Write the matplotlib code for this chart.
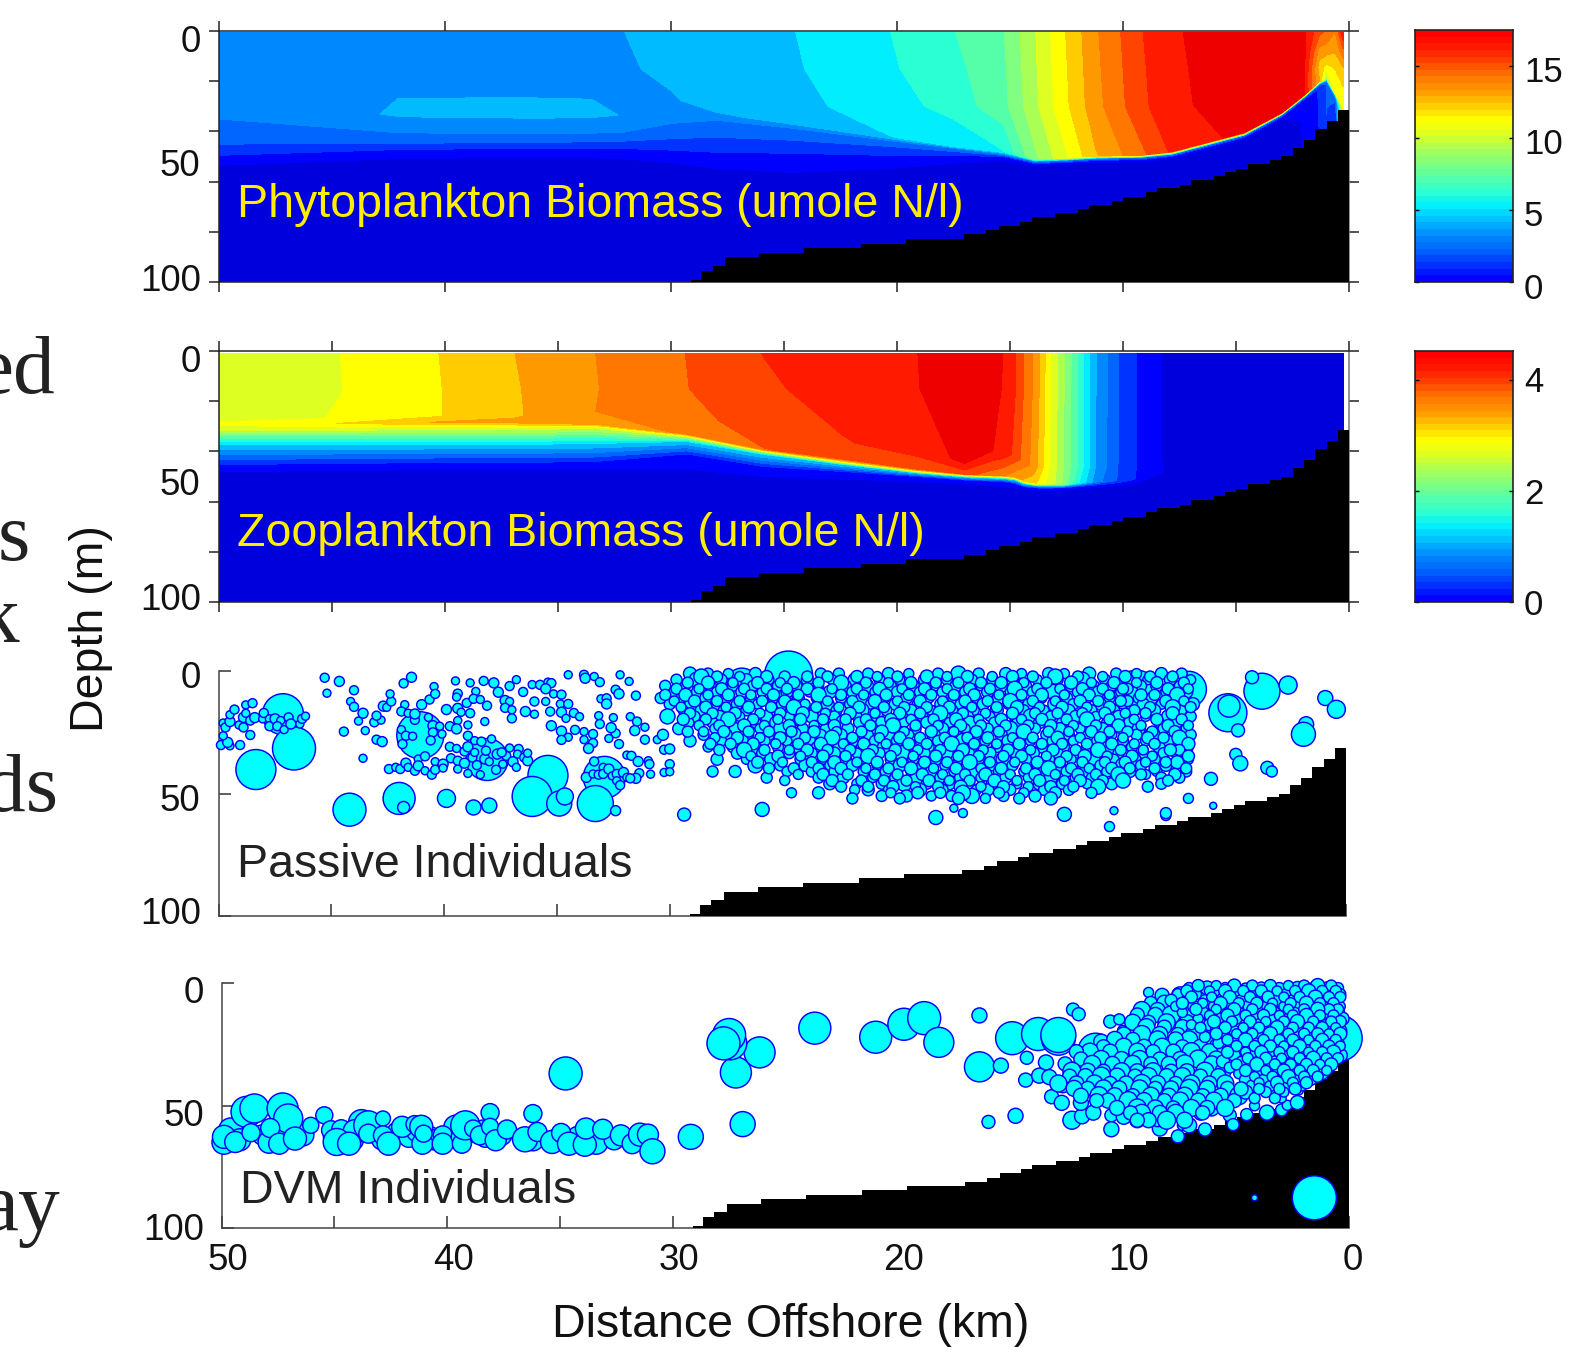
#!/usr/bin/env python
import numpy as np
import matplotlib
matplotlib.use("Agg")
import matplotlib.pyplot as plt
from matplotlib.colors import LinearSegmentedColormap
from matplotlib.transforms import ScaledTranslation

W, H = 1573, 1354
PS = W / 1568.0  # positions below were read on the 1568 wide view
plt.rcParams['font.family'] = ['Liberation Sans', 'DejaVu Sans']

band_colours = ["#0000dd", "#0000ff", "#0033ff", "#0066ff", "#0088ff", "#00bbff", "#00eeff",
                "#2bffd4", "#55ffaa", "#80ff80", "#aaff55", "#ddff22", "#ffff00", "#ffcc00",
                "#ff9900", "#ff7700", "#ff4400", "#ff1a00", "#ee0000"]

# bottom steps: left edge of each step (km offshore) and depth (m)
bathy_km = [29.1, 28.65, 28.15, 27.6, 26.1, 24.1, 21.6, 19.6, 17.05, 16.05, 15.5, 14.55, 14.05, 13, 12,
            11.5, 10.5, 10, 9, 8.5, 7.5, 7, 6, 5.5, 5, 4.5, 3.5, 3, 2.5, 2, 1.5, 1, 0.5, 0]
bathy_depth = [99.3, 95.5, 93.7, 90.2, 88.3, 86.5, 84.7, 82.9, 81.1, 79.5, 77.7, 76, 74.3, 72.7, 70.9,
               69.3, 67.6, 66, 64.3, 62.7, 61.2, 59.4, 57.9, 56.3, 54.8, 53.1, 51.5, 50, 46.7, 43.6,
               39.1, 35.9, 31.3, 31.3]

# phytoplankton section, one row per station, nodes going down the water column
phyto_top = 17.5
phyto_km = [50, 41.9, 36, 33.5, 32.3, 30, 28, 24.6, 20.4, 17.5, 15.3, 13.9, 12.6, 11.2, 9.2, 7.85, 4.66, 3, 2, 1.33, 1, 0.62, 0.27]
phyto_depth = [
    [0.5, 15, 27, 30, 35.6, 45.2, 49.6, 53.6, 60, 100],
    [0.5, 15, 27, 33.5, 40.8, 44.8, 47.2, 50.8, 60, 100],
    [0.5, 15, 27, 33.5, 40.8, 44.4, 46.8, 50.4, 60, 100],
    [0.5, 15, 27, 33.5, 40.8, 44.2, 46.8, 50.6, 60, 100],
    [0.5, 15, 27, 33.5, 40.8, 44, 46.8, 50.8, 60, 100],
    [0.5, 15, 27, 32, 37, 43, 47.5, 52.5, 60, 100],
    [0.5, 15, 30, 33, 35.6, 42.4, 48.4, 54.8, 62, 100],
    [0.5, 15, 30, 37, 38.8, 43.6, 48.8, 56.4, 64, 100],
    [0.5, 15, 30, 42, 43.6, 46, 49.6, 54.8, 62, 100],
    [0.5, 15, 30, 46, 46.8, 48, 49.6, 52.8, 60, 100],
    [0.5, 15, 30, 48, 49.2, 49.6, 50, 51.6, 60, 100],
    [0.5, 15, 30, 51, 52, 52.4, 52.8, 53.6, 60, 100],
    [0.5, 15, 30, 50.6, 51.6, 52, 52.4, 53.2, 60, 100],
    [0.5, 15, 30, 49.8, 50.8, 51.2, 51.6, 52.4, 60, 100],
    [0.5, 15, 30, 49.4, 50.4, 50.8, 51.2, 52, 60, 100],
    [0.5, 15, 30, 48, 49.2, 49.6, 50, 50.8, 58, 100],
    [0.5, 15, 28, 40.4, 41.6, 42, 42.4, 43.2, 50, 100],
    [0.5, 12, 24, 32.5, 33.5, 33.9, 34.3, 35.1, 42, 100],
    [0.5, 10, 18, 25.4, 26.4, 26.8, 27.2, 28, 35, 100],
    [0.5, 8, 14, 20, 21.2, 21.6, 22, 22.8, 30, 100],
    [0.5, 8, 14, 19, 19.6, 20, 20.4, 21.2, 30, 100],
    [0.5, 8, 15, 25, 25.6, 26, 26.4, 27.2, 32, 100],
    [0.5, 8, 16, 30, 31, 32, 33, 34, 40, 100],
]
phyto_vals = [
    [4.0, 3.95, 3.95, 3.9, 3.66, 2.75, 1.83, 0.916, 0.4, 0.3],
    [3.95, 4.05, 4.62, 4.7, 3.66, 2.75, 1.83, 0.916, 0.4, 0.3],
    [3.95, 4.1, 4.62, 4.8, 3.66, 2.75, 1.83, 0.916, 0.4, 0.3],
    [4.2, 4.25, 4.6, 4.75, 3.66, 2.75, 1.83, 0.916, 0.4, 0.3],
    [4.58, 4.5, 4.55, 4.6, 3.66, 2.75, 1.83, 0.916, 0.4, 0.3],
    [4.8, 4.75, 4.55, 4.45, 3.66, 2.75, 1.83, 0.916, 0.4, 0.3],
    [5.0, 5.0, 4.8, 4.55, 3.66, 2.75, 1.83, 0.916, 0.4, 0.3],
    [5.5, 5.42, 5.25, 4.7, 3.66, 2.75, 1.83, 0.916, 0.4, 0.3],
    [6.41, 6.3, 6.0, 5.5, 3.66, 2.75, 1.83, 0.916, 0.4, 0.3],
    [7.33, 7.1, 6.8, 5.7, 3.66, 2.75, 1.83, 0.916, 0.4, 0.3],
    [8.24, 8.1, 8.0, 6.4, 3.66, 2.75, 1.83, 0.916, 0.4, 0.3],
    [10.08, 10.0, 9.9, 9.0, 3.66, 2.75, 1.83, 0.916, 0.4, 0.3],
    [11.9, 11.8, 11.7, 10.8, 3.66, 2.75, 1.83, 0.916, 0.4, 0.3],
    [13.7, 13.6, 13.5, 12.8, 3.66, 2.75, 1.83, 0.916, 0.4, 0.3],
    [15.6, 15.5, 15.4, 14.5, 3.66, 2.75, 1.83, 0.916, 0.4, 0.3],
    [16.5, 16.45, 16.4, 15.8, 3.66, 2.75, 1.83, 0.916, 0.4, 0.3],
    [17.0, 17.0, 17.0, 16.9, 3.66, 2.75, 1.83, 0.916, 0.4, 0.3],
    [16.9, 16.9, 16.9, 16.8, 3.66, 2.75, 1.83, 0.916, 0.4, 0.3],
    [16.8, 16.8, 16.7, 16.6, 3.66, 2.75, 1.83, 1.3, 1.0, 0.8],
    [15.0, 13.5, 12.5, 13.0, 3.66, 2.75, 2.2, 1.9, 1.9, 1.5],
    [14.5, 13.3, 11.7, 9.0, 4.5, 4.0, 3.4, 2.8, 2.8, 2.0],
    [13.8, 13.0, 12.0, 11.0, 5.0, 4.5, 4.0, 3.0, 2.0, 1.5],
    [16.5, 14.5, 12.5, 11.3, 11.0, 11.0, 10.0, 10.0, 10.0, 5.0],
]

# zooplankton section, same layout
zoo_top = 4.52
zoo_km = [50, 44.6, 40.3, 36.9, 33.3, 29.3, 25.9, 22.4, 19.1, 17, 15.9, 15.3, 14.75, 14.4, 14, 13.7, 13.2, 12.6, 12, 11.2, 10.2, 9.4, 8.3, 7.8, 4.2, 0.27]
zoo_depth = [
    [0.8, 15, 26, 29.2, 31.2, 37.2, 45.2, 48, 100],
    [0.8, 15, 27, 28.8, 31.2, 37.2, 44.8, 47.6, 100],
    [0.8, 15, 26, 28.4, 30.8, 37.2, 44.4, 47.2, 100],
    [0.8, 15, 26, 28.4, 30.8, 37.2, 44.4, 47.2, 100],
    [0.8, 15, 24, 29, 30.5, 36.8, 44, 47, 100],
    [0.8, 15, 26, 33, 34, 36, 41, 47, 100],
    [0.8, 15, 30, 39, 40, 41.2, 46, 50, 100],
    [0.8, 15, 36, 43, 44.4, 45.2, 48, 51, 100],
    [0.8, 15, 40, 47, 48, 48.6, 50, 52, 100],
    [0.8, 15, 44, 49, 49.6, 50.2, 51.4, 53, 100],
    [0.8, 15, 40, 49.4, 50, 50.6, 51.8, 53.6, 100],
    [0.8, 15, 40, 49.6, 50.2, 50.8, 52, 54, 100],
    [0.8, 15, 42, 50.2, 50.8, 51.4, 52.8, 54.5, 100],
    [0.8, 15, 44, 51.6, 52.2, 52.8, 54, 55, 100],
    [0.8, 15, 46, 52.4, 53, 53.4, 54.4, 55.4, 100],
    [0.8, 15, 46, 52.8, 53.2, 53.6, 54.6, 55.6, 100],
    [0.8, 15, 46, 52.8, 53, 53.6, 54.6, 55.6, 100],
    [0.8, 15, 46, 52.8, 53, 53.6, 54.4, 55.4, 100],
    [0.8, 15, 46, 52.4, 52.6, 53, 54, 55, 100],
    [0.8, 15, 46, 52, 52.2, 52.6, 53.4, 54.4, 100],
    [0.8, 15, 46, 51.4, 51.6, 51.8, 52.6, 53.6, 100],
    [0.8, 15, 46, 50.8, 51, 51.2, 51.6, 52.6, 100],
    [0.8, 15, 44, 48, 48.5, 49, 50, 51, 100],
    [0.8, 15, 30, 45, 46, 47, 48, 49, 100],
    [0.8, 15, 30, 45, 46, 47, 48, 49, 100],
    [0.8, 10, 20, 25, 26, 27, 28, 29, 100],
]
zoo_vals = [
    [2.7, 2.72, 2.75, 2.9, 2.7, 1.43, 0.476, 0.238, 0.05],
    [2.856, 2.85, 2.87, 3.1, 2.7, 1.43, 0.476, 0.238, 0.05],
    [3.09, 3.08, 3.08, 3.35, 2.7, 1.43, 0.476, 0.238, 0.05],
    [3.33, 3.31, 3.3, 3.4, 2.7, 1.43, 0.476, 0.238, 0.05],
    [3.57, 3.56, 3.57, 3.45, 2.7, 1.43, 0.476, 0.238, 0.05],
    [3.81, 3.8, 3.72, 3.6, 2.7, 1.43, 0.476, 0.238, 0.05],
    [4.05, 4.0, 3.93, 3.8, 2.7, 1.43, 0.476, 0.238, 0.05],
    [4.17, 4.15, 4.03, 3.85, 2.7, 1.43, 0.476, 0.238, 0.05],
    [4.28, 4.27, 4.12, 3.85, 2.7, 1.43, 0.476, 0.238, 0.05],
    [4.5, 4.5, 4.35, 3.9, 2.7, 1.43, 0.476, 0.238, 0.05],
    [4.35, 4.35, 4.3, 3.7, 2.7, 1.43, 0.476, 0.238, 0.05],
    [4.28, 4.27, 4.22, 3.6, 2.7, 1.43, 0.476, 0.238, 0.05],
    [4.05, 4.04, 3.95, 3.4, 2.7, 1.43, 0.476, 0.238, 0.05],
    [3.81, 3.8, 3.7, 3.3, 2.7, 1.43, 0.476, 0.238, 0.05],
    [3.57, 3.56, 3.5, 3.2, 2.7, 1.43, 0.476, 0.238, 0.05],
    [3.33, 3.32, 3.25, 3.0, 2.7, 1.43, 0.476, 0.238, 0.05],
    [2.856, 2.84, 2.8, 2.75, 2.6, 1.43, 0.476, 0.238, 0.05],
    [2.38, 2.37, 2.35, 2.3, 2.2, 1.43, 0.476, 0.238, 0.05],
    [1.9, 1.9, 1.88, 1.7, 1.6, 1.3, 0.476, 0.238, 0.05],
    [1.19, 1.19, 1.17, 1.05, 0.95, 0.8, 0.476, 0.238, 0.05],
    [0.71, 0.71, 0.7, 0.68, 0.66, 0.6, 0.44, 0.238, 0.05],
    [0.476, 0.476, 0.47, 0.46, 0.44, 0.42, 0.35, 0.238, 0.05],
    [0.238, 0.24, 0.24, 0.26, 0.24, 0.2, 0.1, 0.06, 0.05],
    [0.15, 0.15, 0.15, 0.15, 0.12, 0.1, 0.07, 0.05, 0.05],
    [0.1, 0.1, 0.1, 0.1, 0.1, 0.1, 0.1, 0.1, 0.05],
    [0.1, 0.1, 0.1, 0.1, 0.1, 0.1, 0.1, 0.1, 0.05],
]

# passive individuals: big ones with their own diameter (pixels on the page)
passive_big_km = [47.15, 46.66, 48.35, 44.2, 42.0, 41.8, 39.9, 38.7, 38.0, 41.06, 38.1, 35.4, 36.1, 34.9, 34.65, 32.9, 33.3, 32.4, 29.36,
                  24.73, 26.8, 9.3, 7.0, 5.25, 5.2, 4.8, 3.74, 4.18, 2.58, 0.93, 0.44, 1.78, 1.9, 4.9, 4.7, 3.5, 3.3, 6.0, 7.0, 5.9, 8.0, 8.0, 10.5, 10.3, 12.5, 18.2, 17, 17.4, 25.9]
passive_big_depth = [17.6, 31.6, 40.2, 56.6, 52.0, 55.7, 52, 55.7, 54.9, 26.2, 36.1, 42.6, 51.2, 54.1, 51.2, 43.4, 54.1, 57, 58.6,
                     1.6, 5.3, 8.6, 7.4, 17, 14.3, 24.2, 8.2, 2.5, 5.7, 11, 15.6, 21.7, 25.8, 34, 37.7, 39.5, 41, 44, 52, 55, 59, 58, 63.5, 57, 58.5, 59.8, 58, 56, 56.5]
passive_big_d = [41, 43, 40, 33, 32, 12, 18, 15, 15, 47, 42, 40, 40, 25, 17, 42, 36, 10, 13,
                 48, 32, 44, 36, 38, 22, 13, 36, 13, 18, 15, 18, 15, 24, 12, 15, 13, 11, 13, 10, 7, 10, 11, 10, 8, 14, 14, 9, 8, 14]

passive_small_km = [49.9, 49.5, 49.05, 49.6, 49.8, 48.6, 49.8, 49.7, 49.5, 49.5, 49.3, 49.1, 48.9, 48.9, 48.8, 48.5, 48.8, 48.6, 48.4, 48.05, 48, 47.75, 47.75, 47.5, 47.25, 47.4, 47.1, 46.9, 46.8, 46.4, 46.3, 46.15,
                    45.3, 44.65, 45.2, 44, 44.15, 44, 43.6, 43.8, 44.45, 43.5, 43, 42.75, 43.6, 43.1, 42.8, 43, 42.7, 42.55, 42.35, 42.4, 41.8, 41.45, 41.75, 41.9, 41.6, 41.3, 41.3, 41.9, 41.7, 41.4, 41.85, 41, 40.7, 40.65, 40.45, 40.4, 40.5, 40.2, 40.5, 40.1, 40.6,
                    39.9, 39.5, 39.4, 39.45, 39, 39.4, 39.25, 38.85, 39.4, 39.75, 39.45, 38.95, 38.95, 38.85, 38.25, 37.8, 38.6, 38.7, 38.4, 38.1, 37.6, 38.2, 37.1, 36.8, 36.5, 37.3, 37.1, 37.3, 37, 37, 36.4, 36, 36, 35.5, 35.3, 35.25, 36.1, 35.75, 35.4, 35.25, 35.5, 35.15, 34.8, 34.85, 34.5, 34.8, 34.6, 34.25, 34, 34.2, 34.8, 34.5, 34.8,
                    34.5, 33.8, 33.75, 33.35, 33.1, 33.05, 32.8, 32.8, 33.15, 33.1, 32.5, 32.4, 32.6, 33.8, 33.4, 33.8, 33.4, 33.6, 32.7, 32.25, 32.2, 32.4, 32.25, 31.8, 31.5, 31.75, 31.45, 31.55, 31.1, 31.1, 31.9, 31.7, 31.4, 30.95, 30.9, 30.85, 31.35, 31.5, 30.25, 30, 30, 30.25, 30, 30.55,
                    42.45, 42.15, 41.95, 41.7, 41.6, 41.3, 41.15, 40.85, 41.15, 40.85, 40.55, 40.4, 40.4, 40.05, 40.05, 39.7, 39.4, 39.4, 39.1, 38.95, 38.75, 38.4, 38.55, 38.2, 38, 37.7, 37.4, 37.25, 36.95, 36.8, 36.7, 36.75, 36.45, 36.3, 36.3, 39.75, 39.45, 39.1, 38.95, 38.65, 38.35, 37.9, 38.15, 37.65, 38.65, 37.45, 37.1,
                    33.35, 33.7, 33.4, 33.15, 32.95, 32.95, 32.7, 32.55, 32.35, 32.35, 32.2, 32.05, 31.9, 31.75]
passive_small_depth = [30.2, 30.5, 30.2, 29.1, 26.4, 26.1, 21.2, 23, 20.6, 17.8, 15.7, 22, 23, 18.9, 13.8, 13.1, 17.2, 20.2, 19, 19.5, 17.1, 19.5, 22.5, 19.5, 20.2, 22.5, 23.9, 18.9, 21.6, 21.6, 19.5, 18.4,
                       2.7, 4.2, 9, 7.8, 12.4, 14.6, 17.2, 20.4, 24.7, 24.3, 28, 28.8, 35.6, 20.9, 20, 18.2, 14.3, 14.8, 12.4, 9.3, 5, 2.5, 13.7, 16.5, 17.2, 19.9, 17.5, 23.9, 26.4, 26.6, 29.8, 13.7, 18.9, 11.6, 6.3, 9.3, 22.3, 22.5, 25, 25.7, 28.3,
                       15.7, 4, 9.2, 10.6, 13, 15.2, 16.8, 17.2, 20.2, 22.5, 23.6, 22, 26.4, 4.8, 4, 4.8, 8.3, 11.3, 11.6, 14.1, 8.6, 20.6, 6.1, 3.5, 8.5, 12, 12.4, 15, 15.8, 19.3, 16.5, 17.6, 12.4, 12.4, 16.5, 22.3, 5.5, 5.6, 4.5, 4.9, 7.2, 9.3, 9.6, 13.4, 13.4, 16.8, 19.3, 17.1, 18.6, 24, 24.5, 27, 28.1,
                       1.5, 1.5, 2.9, 2.2, 4.5, 11.3, 11.1, 13.4, 18.2, 21.6, 19, 25.4, 23.1, 24.7, 25.7, 28, 29.4, 31.6, 27.5, 29.8, 1.5, 7.6, 9.3, 4.2, 10, 18.6, 20.6, 24.3, 22.9, 28, 34.3, 34.6, 36.9, 36.6, 38, 42.1, 41.7, 43.8, 41.4, 38, 41.1, 32.1, 31.8, 28,
                       40, 39.3, 40, 37.6, 39.3, 40.7, 35.9, 34.8, 38.7, 40.7, 42.3, 37, 40.3, 38, 39.6, 35.6, 40, 36.6, 37.6, 41.8, 35.3, 42.3, 38.4, 35.9, 37, 40.3, 38, 34.6, 37, 39.3, 31.8, 33.9, 35.3, 36.6, 33.5, 30.9, 31.6, 32.8, 30.9, 28.4, 28.8, 27.7, 32.5, 33.9, 33.2, 33.2, 31.4,
                       36.9, 43.4, 42, 42.3, 39.3, 42, 40, 42.8, 42, 44.8, 46.6, 41.4, 43.4, 43.8]

# the dense part of the passive cloud, read as rows: depth of the row and km of the bubbles in it
passive_row_depth = [1, 3.5, 6, 8.5, 11, 13.5, 16, 18.5, 21, 23.5, 26, 28.5, 31, 33.5, 36, 38.5, 41, 43.5, 46, 48.5, 51]
passive_row_km = [
    [7.3, 8.2, 9.3, 10.2, 11.4, 12.5, 13.2, 14.4, 15.1, 16.3, 17.2, 18.1, 19.4, 20.3, 21.2, 22.5, 23.3, 26.2, 27.4, 28.3, 29.1],
    [6.9, 7.8, 8.8, 9.7, 10.7, 11.7, 12.8, 13.7, 14.8, 15.7, 16.6, 17.7, 18.7, 19.8, 20.7, 21.8, 22.8, 23.9, 25.6, 26.6, 27.7, 28.8, 29.7],
    [7.4, 8.4, 9.1, 10.4, 11.2, 12.2, 13.3, 14.2, 15.3, 16.2, 17.3, 18.2, 19.2, 20.2, 21.3, 22.2, 23.4, 24.4, 25.2, 26.3, 27.2, 28.2, 29.3, 30.2],
    [7.1, 8.0, 9.5, 10, 11, 11.9, 13, 13.9, 14.9, 15.9, 16.9, 17.9, 18.9, 19.9, 20.9, 21.9, 22.9, 23.8, 24.8, 25.9, 26.8, 27.9, 28.7, 29.8],
    [7.6, 8.6, 9.2, 10.5, 11.5, 12.4, 13.5, 14.5, 15.4, 16.4, 17.4, 18.5, 19.5, 20.5, 21.4, 22.4, 23.5, 24.3, 25.4, 26.4, 27.5, 28.4, 29.5, 30.4],
    [6.8, 8.2, 9.0, 9.9, 10.9, 12.1, 12.9, 14.1, 15, 16.1, 17.1, 18, 19, 20, 21.1, 22, 23, 24, 25, 26.1, 27, 27.9, 29, 30],
    [7.3, 8.5, 9.4, 10.3, 11.3, 12.3, 13.4, 14.3, 15.5, 16.5, 17.5, 18.4, 19.3, 20.4, 21.5, 22.6, 23.6, 24.6, 25.5, 26.6, 27.6, 28.6, 29.4],
    [6.9, 7.9, 8.9, 10.1, 11.1, 12, 13.1, 14, 14.7, 15.8, 16.8, 17.8, 18.8, 19.7, 20.8, 21.7, 22.7, 23.7, 24.7, 25.7, 26.9, 27.8, 28.9, 30.1],
    [7.5, 8.3, 9.6, 10.6, 11.6, 12.6, 13.6, 14.6, 15.6, 16.7, 17.6, 18.6, 19.6, 20.6, 21.6, 22.3, 23.2, 24.2, 25.3, 26.2, 27.3, 28.1, 29.2],
    [7.1, 8.1, 9.2, 10, 10.8, 11.8, 12.7, 13.8, 14.9, 15.9, 16.9, 17.9, 19.1, 20.1, 21, 22.1, 23.1, 24.1, 25.1, 26, 27.1, 28, 29.6],
    [6.9, 8.6, 9.3, 10.4, 11.4, 12.3, 13.3, 14.4, 15.3, 16.4, 17.3, 18.3, 19.4, 20.3, 21.2, 22.4, 23.3, 24.5, 25.6, 26.5, 27.5, 28.5, 30.3],
    [7.4, 7.9, 8.9, 9.9, 11, 12.1, 13, 14, 15, 16, 17, 18.1, 18.9, 19.9, 20.9, 21.8, 22.8, 23.8, 24.8, 25.8, 26.8, 27.7, 29.1],
    [7, 8.3, 9.5, 10.5, 11.5, 12.5, 13.5, 14.5, 15.5, 16.6, 17.5, 18.5, 19.5, 20.5, 21.5, 22.5, 23.5, 24.4, 25.2, 26.3, 27.2, 28.3],
    [7.5, 8.1, 9, 10.1, 11.1, 11.9, 12.8, 13.9, 14.7, 15.8, 16.7, 17.7, 18.7, 19.7, 20.7, 21.7, 22.7, 23.7, 24.7, 25.9, 27],
    [7, 8.5, 9.4, 10.3, 11.2, 12.2, 13.2, 14.2, 15.2, 16.3, 17.2, 18.2, 19.2, 20.2, 21.3, 22.2, 23.2, 24.2, 25.5, 26.6, 27.9],
    [7.6, 8, 9.1, 9.9, 10.9, 11.7, 12.7, 13.7, 14.8, 15.7, 16.8, 17.8, 18.8, 19.8, 20.8, 21.9, 22.9, 24, 25.1, 26.2],
    [7.1, 8.4, 9.6, 10.6, 11.6, 12.4, 13.4, 14.3, 15.4, 16.5, 17.4, 18.4, 19.3, 20.4, 21.4, 22.6, 23.7, 24.8, 27.1, 28.1],
    [7.4, 8.2, 10.2, 11.3, 12, 13.1, 14.1, 15.1, 16.2, 17.1, 18, 19, 20, 21, 22.3, 23.4, 25.7],
    [8.2, 10.4, 11.5, 12.6, 13.6, 14.6, 15.7, 16.7, 17.6, 18.6, 19.6, 20.6, 21.7, 22.9],
    [12.3, 13.4, 14.9, 15.9, 16.4, 17.9, 18.9, 20.3, 21.2, 21.8],
    [13.8, 15.2, 16.6, 17.5, 18.4, 19.5, 20.6],
]
passive_row2_depth = [2.2, 4.7, 7.2, 9.7, 12.2, 14.7, 17.2, 19.7, 22.2, 24.7, 27.2, 29.7, 32.2, 34.7, 37.2, 39.7, 42.2, 44.7, 47.2, 49.7, 52]
passive_row2_km = [
    [7.7, 8.7, 9.8, 10.8, 11.9, 12.9, 13.9, 14.8, 15.7, 16.8, 17.7, 18.6, 19.9, 20.8, 21.7, 23, 23.9, 24.9, 25.7, 26.9, 27.9, 28.6],
    [7.2, 8.4, 9.3, 10.3, 11.3, 12.2, 13.3, 14.3, 15.3, 16.2, 17.2, 18.2, 19.3, 20.3, 21.3, 22.4, 23.4, 24.5, 25.1, 26.1, 27.2, 28.3, 29.2],
    [7, 7.9, 9.7, 9.9, 10.8, 11.7, 12.7, 13.7, 14.7, 15.8, 16.7, 17.7, 18.7, 19.7, 20.7, 21.7, 22.8, 23.9, 24.8, 25.7, 26.7, 27.7, 28.7, 29.7],
    [7.5, 8.5, 9.1, 10.5, 11.4, 12.5, 13.5, 14.4, 15.4, 16.5, 17.4, 18.4, 19.4, 20.4, 21.4, 22.4, 23.4, 24.3, 25.4, 26.4, 27.4, 28.3, 29.3, 30.2],
    [7.2, 8, 9.7, 10, 11, 11.8, 12.9, 13.9, 14.9, 15.9, 16.9, 17.9, 18.9, 19.9, 20.9, 21.9, 23, 24.9, 25.9, 26.9, 27.9, 28.9, 29.8],
    [6.9, 7.7, 8.7, 10.5, 11.5, 12.6, 13.6, 14.6, 15.5, 16.6, 17.6, 18.6, 19.6, 20.5, 21.6, 22.5, 23.5, 24.5, 25.5, 26.5, 27.5, 28.4, 29.5],
    [7.7, 8.9, 9.8, 10.7, 11.7, 12.8, 13.8, 14.8, 16, 17, 18, 18.9, 19.8, 20.9, 22, 23.1, 24.1, 25.1, 26, 27.1, 28.1, 29.1],
    [7.3, 8.4, 9.4, 10.5, 11.5, 12.4, 13.5, 14.4, 15.3, 16.3, 17.3, 18.3, 19.3, 20.2, 21.3, 22.2, 23.2, 24.2, 25.2, 26.3, 27.4, 28.4, 29.4],
    [7, 7.9, 9.1, 10.1, 11.1, 12.1, 13.1, 14.1, 15.1, 16.2, 17.1, 18.1, 19.1, 20.1, 21.1, 22.7, 23.6, 24.7, 25.8, 26.7, 27.8, 28.7],
    [7.6, 8.6, 9.7, 10.5, 11.3, 12.3, 13.2, 14.3, 15.4, 16.4, 17.4, 18.4, 19.6, 20.6, 21.5, 22.6, 23.6, 24.6, 25.6, 26.5, 27.6, 28.5, 29.2],
    [7.4, 8.1, 8.8, 9.9, 10.9, 11.8, 12.8, 13.9, 14.8, 15.9, 16.8, 17.8, 18.9, 19.8, 20.7, 21.9, 22.8, 24, 25.1, 26, 27, 28],
    [7, 8.5, 9.4, 10.4, 11.5, 12.6, 13.5, 14.5, 15.5, 16.5, 17.5, 18.6, 19.4, 20.4, 21.4, 22.3, 23.3, 24.3, 25.3, 26.3, 27.3, 28.2],
    [7.4, 7.8, 9, 10, 11, 12, 13, 14, 15, 16.1, 17, 18, 19, 20, 21, 22, 23, 23.9, 24.7, 25.8, 26.7, 27.8],
    [7, 8.6, 9.5, 10.6, 11.6, 12.4, 13.3, 14.4, 15.2, 16.3, 17.2, 18.2, 19.2, 20.2, 21.2, 22.2, 23.2, 24.2, 25.2, 26.4],
    [7.5, 8, 8.9, 9.8, 10.7, 11.7, 12.7, 13.7, 14.7, 15.8, 16.7, 17.7, 18.7, 19.7, 20.8, 21.7, 22.7, 23.7, 25, 26.1],
    [7.1, 8.5, 9.6, 10.4, 11.4, 12.2, 13.2, 14.2, 15.3, 16.2, 17.3, 18.3, 19.3, 20.3, 21.3, 22.4, 23.4, 24.5, 25.6],
    [7.6, 8.9, 9.1, 10.1, 11.1, 11.9, 12.9, 13.8, 14.9, 16, 16.9, 17.9, 18.8, 19.9, 20.9, 22.1, 23.2, 24.3],
    [7.9, 9.9, 10.8, 11.8, 12.5, 13.6, 14.6, 15.6, 16.7, 17.6, 18.5, 19.5, 20.5, 21.5, 22.8, 24.9],
    [8.8, 11, 12.1, 13.1, 14.1, 15.2, 16.2, 17.1, 18.1, 19.1, 20.1, 21.2, 22.4],
    [11.3, 12.9, 14.3, 15.4, 17, 18, 19, 20.2, 23.4, 24.6],
    [13.1, 14.5, 16, 17.2, 19.8, 21.9],
]
passive_row_d = [11, 12, 10, 11, 13, 10, 12, 10, 12, 11, 15, 11, 10, 12, 11, 11]

# DVM individuals, the ones offshore and the big ones with their own diameter
dvm_big_km = [49.6, 49.9, 49.2, 48.2, 47.9, 47.1, 46.4, 45, 44.6, 44.2, 43.9, 43.2, 43.8, 42.9, 42.2, 41.7, 41.3, 40.8, 40.6, 39.8, 39.6, 39.1, 38.3, 38.4, 37.6, 36.2, 35, 34.2, 33.4, 32.6, 31.3,
              49.9, 49.4, 48.9, 48.55, 47.3, 47.05, 48.7, 47.85, 47.45, 46.75, 46.05, 45.45, 45.15, 44.7, 44.1, 44.9, 44.35, 43.5, 43.5, 42.85, 42.85, 42.6, 42, 41.45, 41.15, 41.1, 41.05, 40.2, 40.2, 39.4, 39.35, 39.2, 38.85, 38.55, 38.1, 38.1, 37.85, 37.35, 36.55, 36.2, 36, 35.35, 34.95, 34.6, 33.9, 33.85, 33.1, 32.3, 31.8, 31.45, 31.1, 30.9, 29.2, 26.9, 34.75, 27.2, 26.15, 27.45, 27.5, 27.75,
              23.7, 21.0, 19.75, 18.85, 18.2, 16.4, 14.95, 13.8, 12.9, 12.9, 16.4, 15.45, 14.3, 13.45, 14.35, 13.75, 13.3, 16, 14.8, 12.25, 12, 10.6, 10.2, 10.05, 9.35, 8.9, 8.8, 11.25, 11, 11.2, 12.3, 11.95, 12.7, 13.2, 12.75, 12.3, 11.85, 11.35, 11.9, 11.4, 10.75, 10.1, 9.8, 10.1, 9.2, 10.6, 10.15, 10.55, 10, 10.55, 9.4, 9, 8.4, 8.5, 7.4, 7.6, 7.1, 6.4, 6.6, 6.1, 5.3, 5.15, 4.55, 4.2, 3.65, 3, 2.75, 2.3, 3.5, 2.2, 3, 0.45]
dvm_big_depth = [60, 65, 64, 62, 65, 62, 62, 63, 62.5, 64, 60, 61, 57, 64, 61, 63, 60, 63, 64, 62, 59, 61, 63, 60, 62, 64, 63, 63, 65, 64, 63,
                 62.8, 64.9, 52.6, 51.2, 51.2, 55.3, 61.1, 59.2, 65.6, 63.5, 58.1, 54, 60.1, 59.7, 60.5, 64.9, 65.6, 58.1, 61.5, 55.3, 62.2, 65.6, 58.7, 57.6, 58.7, 65.6, 61.5, 62.2, 65.6, 62.8, 65.6, 58.1, 59.4, 62.2, 52.9, 58.7, 64.2, 59.8, 63.8, 53.3, 60.8, 64.9, 61.2, 65.6, 66, 59.4, 59.7, 62.2, 65.6, 61.9, 61.9, 68.7, 62.8, 57.6, 36.9, 36.5, 28.3, 24.6, 21.2, 24.6,
                 18.4, 22.1, 16.8, 14.3, 24.2, 13.2, 22.5, 20.8, 22.5, 21.2, 34.2, 33.7, 30.5, 32.4, 39.6, 37.8, 38.4, 56.7, 54.2, 10.8, 12.7, 15.7, 14.8, 19.3, 15.7, 3.8, 8.1, 27.6, 23.9, 30.7, 35.1, 35.1, 41.7, 46.4, 48.9, 56, 54.4, 52.9, 48.9, 41.7, 35.9, 29.4, 33.5, 36.9, 36.9, 44.4, 47.8, 54, 54.6, 59.7, 56, 52.3, 59.4, 56, 58.1, 62.6, 58.1, 59.8, 53.3, 51.2, 54, 57.8, 53.7, 50.1, 52.9, 51.8, 49.9, 48.8, 43.4, 44.1, 47.1, 22.5]
dvm_big_d = [24, 24, 22, 20, 22, 20, 22, 22, 25, 22, 24, 22, 26, 20, 21, 20, 24, 22, 20, 22, 25, 22, 20, 20, 21, 22, 22, 22, 24, 20, 22,
             23, 21, 31, 29, 31, 29, 18, 19, 21, 23, 16, 17, 19, 19, 23, 27, 23, 29, 19, 15, 19, 23, 21, 17, 23, 21, 17, 19, 21, 19, 19, 29, 17, 19, 18, 17, 21, 19, 25, 18, 19, 23, 19, 23, 23, 21, 20, 21, 20, 23, 21, 25, 25, 25, 33, 31, 31, 33, 33, 33,
             32, 32, 32, 33, 30, 15, 33, 33, 34, 35, 30, 15, 13, 15, 14, 15, 15, 13, 15, 13, 13, 13, 11, 10, 13, 10, 13, 35, 15, 13, 14, 15, 15, 14, 15, 18, 15, 15, 15, 15, 14, 15, 13, 11, 13, 13, 11, 13, 15, 15, 15, 15, 15, 13, 10, 13, 15, 13, 13, 15, 13, 12, 12, 10, 15, 12, 10, 14, 10, 7, 9, 46]

# middle of the DVM cloud
dvm_mid_depth = [5, 8, 11, 13, 16, 18, 21, 23, 26, 28, 31, 33, 36, 38, 41, 43, 46, 48, 51, 53, 56]
dvm_mid_km = [
    [6.3, 7.5, 8.3],
    [6.1, 7.4, 8.2],
    [6.8, 7.6, 8.5, 9.2],
    [6.4, 7.1, 7.9, 8.6, 9.4],
    [5.9, 7.2, 8.1, 8.9, 9.6],
    [6.6, 7.4, 8.2, 9],
    [6, 6.9, 7.6, 8.4, 9.2, 10],
    [6.3, 7.1, 7.7, 8.5, 9.6, 10.4],
    [5.8, 6.6, 7.4, 8.3, 9.1, 10, 10.9],
    [6.2, 7.0, 7.8, 8.7, 9.4, 10.6, 11.5, 12.1],
    [5.9, 6.7, 7.5, 8.4, 9.3, 10.1, 11, 11.9],
    [6.1, 7.3, 8.0, 8.8, 9.6, 10.5, 11.4, 12.6],
    [5.6, 6.4, 7.2, 7.9, 8.7, 9.4, 10.1, 10.9, 11.6, 12.3],
    [5.8, 6.6, 7.4, 8.1, 8.9, 9.5, 10.3, 11, 11.7, 12.4],
    [5.5, 6.2, 7, 7.7, 8.5, 9.2, 9.9, 10.6, 11.3, 12.1, 12.9],
    [5.4, 6.3, 7.1, 7.9, 8.6, 9.3, 10.2, 10.9, 11.6, 12.2],
    [4.9, 5.7, 6.5, 7.3, 8, 8.8, 9.6, 10.4, 11.1, 11.9],
    [5.1, 6, 6.7, 7.5, 8.2, 9.1, 9.8, 10.7, 11.2],
    [5.5, 6.3, 7, 7.8, 8.6, 9.4, 10.3],
    [6.5, 7.7, 8.4, 9.2, 9.7],
    [7.3, 8.1, 8.9, 9.4],
]
dvm_mid_d = [15, 17, 14, 16, 18, 15, 14, 17]

# near shore part of the DVM cloud
dvm_row_depth = [2, 4.5, 7, 9.5, 12, 14.5, 17, 19.5, 22, 24.5, 27, 29.5, 32, 34.5, 37, 39.5, 42, 44.5, 47]
dvm_row_km = [
    [0.5, 1.0, 1.7, 2.3, 3.1, 3.9, 4.6, 5.5, 6.3, 7.1],
    [0.4, 0.9, 1.4, 2.0, 2.8, 3.5, 4.3, 5.1, 5.9, 6.8, 7.6],
    [0.6, 1.2, 1.8, 2.5, 3.2, 4.0, 4.8, 5.6, 6.4, 7.2, 7.9],
    [0.4, 0.8, 1.5, 2.2, 2.9, 3.7, 4.4, 5.2, 6.0, 6.9, 7.7],
    [0.5, 1.1, 1.7, 2.4, 3.3, 4.1, 4.9, 5.7, 6.5, 7.4],
    [0.3, 0.9, 1.3, 2.0, 2.7, 3.5, 4.2, 5.0, 5.8, 6.7],
    [0.6, 1.2, 1.8, 2.6, 3.1, 3.9, 4.6, 5.4, 6.2, 7.0],
    [0.4, 0.8, 1.5, 2.2, 2.9, 3.6, 4.4, 5.1, 5.9],
    [0.6, 1.1, 1.7, 2.4, 3.2, 4.0, 4.7, 5.5, 6.4],
    [0.5, 0.9, 1.4, 2.1, 2.8, 3.4, 4.2, 5.0, 5.8],
    [0.6, 1.2, 1.9, 2.5, 3.1, 3.8, 4.5, 5.3],
    [0.4, 0.9, 1.5, 2.2, 2.9, 3.6, 4.3, 5.1],
    [0.7, 1.3, 1.8, 2.5, 3.3, 4.0, 4.8, 5.6],
    [0.9, 1.5, 2.1, 2.9, 3.6, 4.4, 5.3],
    [1.2, 1.8, 2.5, 3.2, 4.0, 4.9],
    [1.7, 2.3, 3.0, 3.8, 4.6],
    [2.1, 2.8, 3.5, 4.3],
    [2.9, 3.7, 4.6],
    [3.3, 4.2],
]
dvm_row2_depth = [1, 3.2, 5.7, 8.2, 10.7, 13.2, 15.7, 18.2, 20.7, 23.2, 25.7, 28.2, 30.7, 33.2, 35.7, 38.2, 40.7, 43.2]
dvm_row2_km = [
    [0.8, 1.4, 2, 2.7, 3.5, 4.3, 5.1, 5.9, 6.7],
    [0.6, 1.2, 1.8, 2.4, 3.2, 3.9, 4.7, 5.5, 6.2, 7.2],
    [0.4, 0.9, 1.5, 2.2, 2.9, 3.6, 4.4, 5.3, 6.1, 7],
    [0.7, 1.3, 1.9, 2.6, 3.4, 4.1, 4.9, 5.7, 6.5, 7.4],
    [0.5, 0.9, 1.4, 2.0, 2.7, 3.5, 4.3, 5.1, 5.9, 6.8],
    [0.7, 1.3, 1.9, 2.5, 3.1, 3.8, 4.6, 5.4, 6.2],
    [0.4, 0.8, 1.6, 2.3, 2.9, 3.7, 4.4, 5.2, 6],
    [0.6, 1.2, 1.8, 2.5, 3.2, 4, 4.7, 5.5, 6.6],
    [0.4, 0.9, 1.4, 2, 2.7, 3.5, 4.3, 5, 5.9],
    [0.6, 1.2, 1.8, 2.5, 3.1, 3.8, 4.6, 5.4],
    [0.4, 0.9, 1.5, 2.2, 2.9, 3.5, 4.2, 5],
    [0.7, 1.2, 1.8, 2.5, 3.1, 3.9, 4.6, 5.4],
    [0.5, 1, 1.6, 2.2, 3, 3.7, 4.5],
    [0.8, 1.3, 1.9, 2.6, 3.3, 4.1, 5],
    [1, 1.6, 2.2, 2.9, 3.7, 4.6],
    [1.4, 2, 2.7, 3.4, 4.2],
    [1.9, 2.5, 3.2, 4],
    [2.4, 3.1, 4, 4.8],
]
dvm_row_d = [11, 12, 10, 13, 11, 12, 10, 11, 14, 11]

legend_km = [4.2, 1.55]
legend_depth = [87.7, 87.7]
legend_d = [6, 44]


def box(x0, y0, x1, y1):
    # axes rectangle from page pixels
    return [x0 * PS / W, 1 - y1 * PS / H, (x1 - x0) * PS / W, (y1 - y0) * PS / H]


def dsize(d):
    # page pixel diameter to scatter size
    return (np.asarray(d, dtype=float) * 72.0 / 100.0) ** 2


def shift_labels(labels, fig, dx=None, dy=None):
    for i, t in enumerate(labels):
        ox = dx[i] if dx is not None else 0
        oy = dy[i] if dy is not None else 0
        t.set_transform(t.get_transform() + ScaledTranslation(ox / 100.0, oy / 100.0, fig.dpi_scale_trans))


def draw_bottom(ax):
    ax.fill_between(bathy_km, bathy_depth, 100, step="post", color="black", lw=0, zorder=3)


def depth_axis(ax, fig, marks, dy, tick_kw):
    ax.set_ylim(100, 0)
    ax.yaxis.remove_overlapping_locs = False
    ax.set_yticks([0, 50, 100])
    ax.set_yticklabels(["0", "50", "100"], fontsize=26.5, color="#111111")
    ax.set_yticks(marks, minor=True)
    ax.tick_params(axis="y", which="major", length=0, pad=13)
    ax.tick_params(axis="y", which="minor", **tick_kw)
    shift_labels(ax.get_yticklabels(), fig, dy=dy)


def section(fig, rect, km, depth, vals, top, label, label_x, dy):
    ax = fig.add_axes(rect)
    nrow = len(depth[0])
    X = np.tile(np.array(km, dtype=float), (nrow, 1))
    Y = np.array(depth, dtype=float).T
    Z = np.array(vals, dtype=float).T
    levels = np.linspace(0, top, len(band_colours) + 1)
    ax.contourf(X, Y, Z, levels=levels, colors=band_colours, zorder=1)
    draw_bottom(ax)
    ax.set_xlim(50, 0)
    tick_kw = dict(direction="out", length=7.5, width=1.1, color="#222222", left=True, right=True)
    depth_axis(ax, fig, [0, 20, 40, 60, 80, 100], dy, tick_kw)
    for s in ax.spines.values():
        s.set_linewidth(1.1)
        s.set_color("#222222")
    ax.spines["right"].set_color("#777777")
    ax.set_zorder(2)
    ax.text(label_x, label[1], label[0], fontsize=label[2], color="#ffee00", va="center", ha="left", zorder=5)
    return ax


def colourbar(fig, rect, top, ticks, dy):
    ax = fig.add_axes(rect)
    cmap = LinearSegmentedColormap.from_list("bar", ["#0000ff"] + band_colours[2:-1] + ["#ff0000"], N=38)
    edges = np.linspace(0, top, 39)
    ax.pcolormesh([0, 1], edges, (edges[:-1] + edges[1:]).reshape(-1, 1) / 2, cmap=cmap, vmin=0, vmax=top)
    ax.set_xticks([])
    ax.set_yticks(ticks)
    ax.set_yticklabels([str(t) for t in ticks], fontsize=25, color="#111111")
    ax.yaxis.tick_right()
    ax.tick_params(axis="y", direction="in", length=3, width=1, left=True, right=True, pad=8)
    shift_labels(ax.get_yticklabels(), fig, dy=dy)
    for s in ax.spines.values():
        s.set_linewidth(1.2)
        s.set_color("#222222")
    return ax


def rows_to_points(row_depth, row_km, sizes):
    xs, ys = [], []
    for d, r in zip(row_depth, row_km):
        xs.extend(r)
        ys.extend([d] * len(r))
    return xs, ys, np.resize(sizes, len(xs))


def bubbles(ax, x, y, d):
    ax.scatter(x, y, s=dsize(d), c="#00ffff", edgecolors="#0000ff", linewidths=1.05, clip_on=False, zorder=4)


def bubble_panel(fig, rect, dy):
    ax = fig.add_axes(rect)
    draw_bottom(ax)
    ax.set_xlim(50, 0)
    tick_kw = dict(direction="in", length=8.5, width=1.1, color="#333333")
    depth_axis(ax, fig, [0, 50, 100], dy, tick_kw)
    ax.set_xticks(range(50, -1, -5))
    ax.tick_params(axis="x", direction="in", length=8.5, width=1.1, color="#333333", labelbottom=False)
    ax.spines["top"].set_visible(False)
    ax.spines["right"].set_visible(False)
    ax.spines["left"].set_color("#444444")
    ax.spines["bottom"].set_color("#444444")
    ax.spines["left"].set_linewidth(1.1)
    ax.spines["bottom"].set_linewidth(1.1)
    ax.patch.set_alpha(0)
    return ax


fig = plt.figure(figsize=(W / 100.0, H / 100.0), dpi=100)

# phytoplankton
ax1 = section(fig, box(218, 31, 1345, 281), phyto_km, phyto_depth, phyto_vals, phyto_top,
              ("Phytoplankton Biomass (umole N/l)", 69.2, 33.5), 49.2, [-7, -6, 4])
ax1.set_xticks(range(50, -1, -10))
ax1.tick_params(axis="x", direction="out", length=7.5, width=1.1, color="#222222", top=True, bottom=True, labelbottom=False)

# zooplankton
ax2 = section(fig, box(218, 350, 1345, 600), zoo_km, zoo_depth, zoo_vals, zoo_top,
              ("Zooplankton Biomass (umole N/l)", 72.9, 33.5), 49.2, [-7, -5, 5])
ax2.set_xticks(range(50, -1, -5))
ax2.tick_params(axis="x", direction="out", length=7.5, width=1.1, color="#222222", top=True, bottom=True, labelbottom=False)

# passive
ax3 = bubble_panel(fig, box(218, 669, 1342, 913), [-3, -4, 5])
px, py, pd = rows_to_points(passive_row_depth, passive_row_km, passive_row_d)
qx, qy, qd = rows_to_points(passive_row2_depth, passive_row2_km, passive_row_d[::-1])
bubbles(ax3, passive_big_km, passive_big_depth, passive_big_d)
bubbles(ax3, passive_small_km, passive_small_depth, np.resize([9, 8, 9, 10, 8], len(passive_small_km)))
bubbles(ax3, px, py, pd)
bubbles(ax3, qx, qy, qd)
ax3.text(49.2, 79, "Passive Individuals", fontsize=33.5, color="#222222", va="center", ha="left", zorder=5)

# DVM
ax4 = bubble_panel(fig, box(221, 980, 1345, 1224), [-6, -7, 1])
ax4.set_xticks([50, 40, 30, 20, 10, 0])
ax4.set_xticks(range(50, -1, -5), minor=True)
ax4.xaxis.remove_overlapping_locs = False
ax4.set_xticklabels(["50", "40", "30", "20", "10", "0"], fontsize=26.5, color="#111111")
ax4.tick_params(axis="x", which="major", length=0, pad=11, labelbottom=True)
ax4.tick_params(axis="x", which="minor", direction="in", length=8.5, width=1.1, color="#333333")
shift_labels(ax4.get_xticklabels(), fig, dx=[6, 6, 6, 5, 5, 3])
mx, my, md = rows_to_points(dvm_mid_depth, dvm_mid_km, dvm_mid_d)
rx, ry, rd = rows_to_points(dvm_row_depth, dvm_row_km, dvm_row_d)
sx, sy, sd = rows_to_points(dvm_row2_depth, dvm_row2_km, dvm_row_d[::-1])
bubbles(ax4, dvm_big_km, dvm_big_depth, dvm_big_d)
bubbles(ax4, mx, my, md)
bubbles(ax4, rx, ry, rd)
bubbles(ax4, sx, sy, sd)
bubbles(ax4, legend_km, legend_depth, legend_d)
ax4.text(49.2, 85, "DVM Individuals", fontsize=33.5, color="#222222", va="center", ha="left", zorder=5)

# colour bars
colourbar(fig, box(1411, 30, 1508, 281), phyto_top, [0, 5, 10, 15], [-4, -3, -3, -3])
colourbar(fig, box(1411, 350, 1508, 600), zoo_top, [0, 2, 4], [0, 0, 1])

fig.text(788 * PS / W, 1 - 1321 * PS / H, "Distance Offshore (km)", fontsize=33.5, color="#111111", ha="center", va="center")
fig.text(91 * PS / W, 1 - 627 * PS / H, "Depth (m)", fontsize=33.5, color="#111111", rotation=90, ha="center", va="center")

# bits of the page text next to the figure
for s, x, y in [("ed", 55, 392), ("s", 30, 558), ("k", 19, 640), ("ds", 58, 808), ("ay", 60, 1226)]:
    fig.text(x * PS / W, 1 - y * PS / H, s, family="Liberation Serif", fontsize=60, color="#222222", ha="right", va="baseline")

fig.savefig("out.png", dpi=100)
